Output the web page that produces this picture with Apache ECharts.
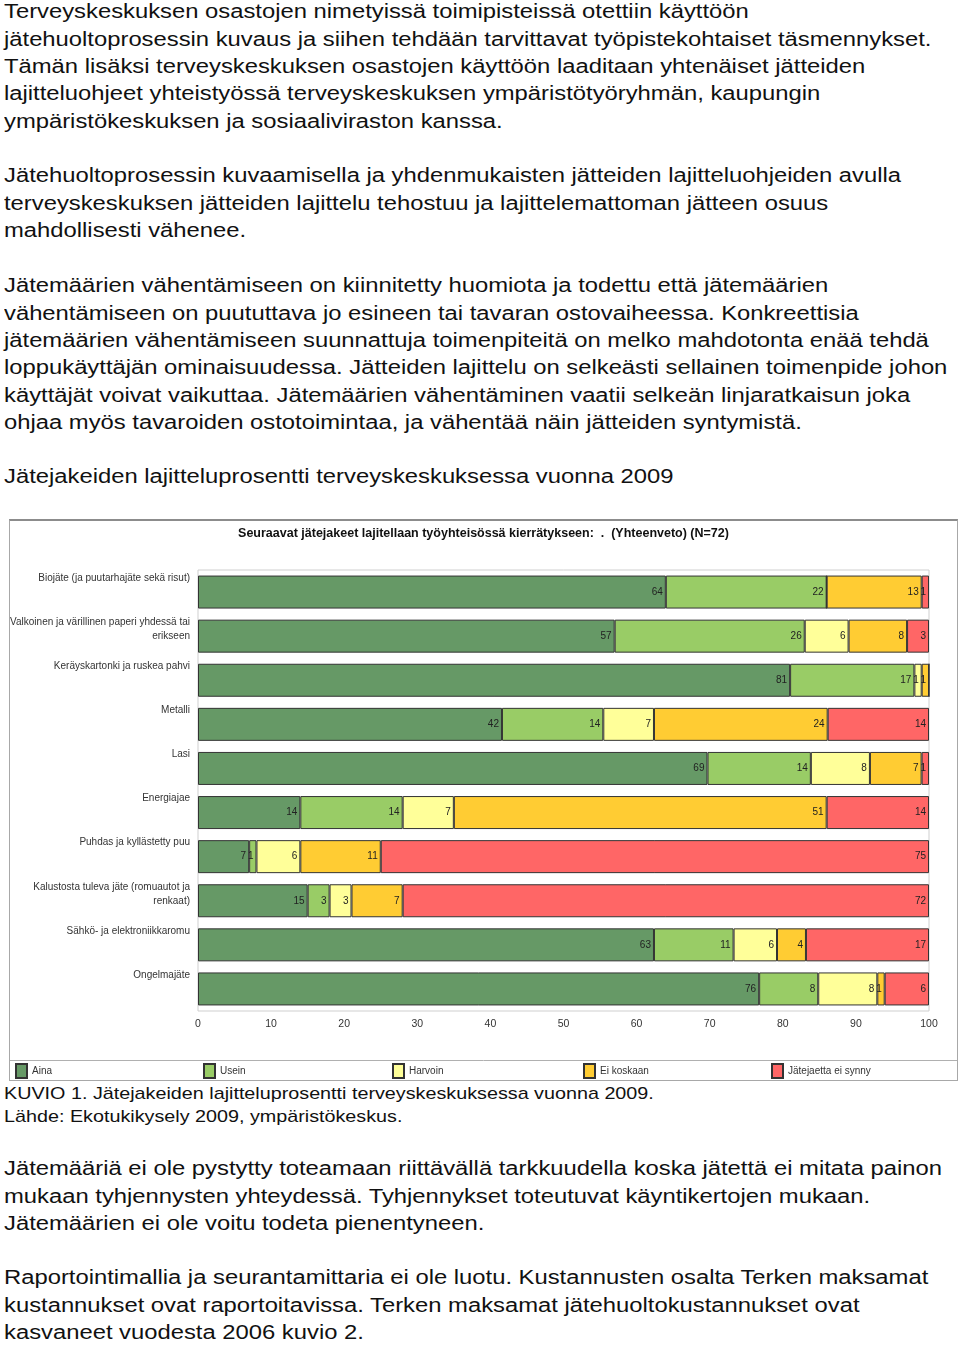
<!DOCTYPE html>
<html>
<head>
<meta charset="utf-8">
<script src="https://cdn.jsdelivr.net/npm/echarts@6/dist/echarts.min.js"></script>
<style>
html,body{margin:0;padding:0;background:#fff;width:960px;height:1345px;overflow:hidden;position:relative;}
.l{position:absolute;left:4px;white-space:nowrap;font-family:'Liberation Sans',Arial,sans-serif;color:#111;transform-origin:0 0;transform:scaleX(1.19);}
.b{font-size:20px;line-height:20px;}
.c{font-size:16.6px;line-height:16.6px;}
#box{position:absolute;left:9px;top:519px;width:947px;height:559px;border:1px solid #a8a8a8;border-top:2px solid #8c8c8c;background:#fff;}
#chart{width:947px;height:559px;}
</style>
</head>
<body>
<div id="text"></div>
<div id="box"><div id="chart"></div></div>
<script>
// ---- page text lines: [text, centerY, class]
const pageLines = [
 ["Terveyskeskuksen osastojen nimetyissä toimipisteissä otettiin käyttöön", 11, "b"],
 ["jätehuoltoprosessin kuvaus ja siihen tehdään tarvittavat työpistekohtaiset täsmennykset.", 38.3, "b"],
 ["Tämän lisäksi terveyskeskuksen osastojen käyttöön laaditaan yhtenäiset jätteiden", 65.6, "b"],
 ["lajitteluohjeet yhteistyössä terveyskeskuksen ympäristötyöryhmän, kaupungin", 92.9, "b"],
 ["ympäristökeskuksen ja sosiaaliviraston kanssa.", 120.2, "b"],
 ["Jätehuoltoprosessin kuvaamisella ja yhdenmukaisten jätteiden lajitteluohjeiden avulla", 175, "b"],
 ["terveyskeskuksen jätteiden lajittelu tehostuu ja lajittelemattoman jätteen osuus", 202.3, "b"],
 ["mahdollisesti vähenee.", 229.6, "b"],
 ["Jätemäärien vähentämiseen on kiinnitetty huomiota ja todettu että jätemäärien", 285, "b"],
 ["vähentämiseen on puututtava jo esineen tai tavaran ostovaiheessa. Konkreettisia", 312.3, "b"],
 ["jätemäärien vähentämiseen suunnattuja toimenpiteitä on melko mahdotonta enää tehdä", 339.6, "b"],
 ["loppukäyttäjän ominaisuudessa. Jätteiden lajittelu on selkeästi sellainen toimenpide johon", 366.9, "b"],
 ["käyttäjät voivat vaikuttaa. Jätemäärien vähentäminen vaatii selkeän linjaratkaisun joka", 394.2, "b"],
 ["ohjaa myös tavaroiden ostotoimintaa, ja vähentää näin jätteiden syntymistä.", 421.5, "b"],
 ["Jätejakeiden lajitteluprosentti terveyskeskuksessa vuonna 2009", 476, "b"],
 ["KUVIO 1. Jätejakeiden lajitteluprosentti terveyskeskuksessa vuonna 2009.", 1093.5, "c"],
 ["Lähde: Ekotukikysely 2009, ympäristökeskus.", 1116.5, "c"],
 ["Jätemääriä ei ole pystytty toteamaan riittävällä tarkkuudella koska jätettä ei mitata painon", 1168, "b"],
 ["mukaan tyhjennysten yhteydessä. Tyhjennykset toteutuvat käyntikertojen mukaan.", 1195.3, "b"],
 ["Jätemäärien ei ole voitu todeta pienentyneen.", 1222.6, "b"],
 ["Raportointimallia ja seurantamittaria ei ole luotu. Kustannusten osalta Terken maksamat", 1277, "b"],
 ["kustannukset ovat raportoitavissa. Terken maksamat jätehuoltokustannukset ovat", 1304.3, "b"],
 ["kasvaneet vuodesta 2006 kuvio 2.", 1331.6, "b"]
];
const tc = document.getElementById('text');
pageLines.forEach(([t, cy, cls]) => {
  const d = document.createElement('div');
  d.className = 'l ' + cls;
  d.textContent = t;
  d.style.top = (cls === 'b' ? cy - 9.6 : cy - 8) + 'px';
  tc.appendChild(d);
});

// ---- chart data
const chartTitle = 'Seuraavat jätejakeet lajitellaan työyhteisössä kierrätykseen:  .  (Yhteenveto) (N=72)';
const categories = [
 'Biojäte (ja puutarhajäte sekä risut)',
 'Valkoinen ja värillinen paperi yhdessä tai\nerikseen',
 'Keräyskartonki ja ruskea pahvi',
 'Metalli',
 'Lasi',
 'Energiajae',
 'Puhdas ja kyllästetty puu',
 'Kalustosta tuleva jäte (romuautot ja\nrenkaat)',
 'Sähkö- ja elektroniikkaromu',
 'Ongelmajäte'
];
const seriesNames = ['Aina', 'Usein', 'Harvoin', 'Ei koskaan', 'Jätejaetta ei synny'];
const aina      = [64, 57, 81, 42, 69, 14,  7, 15, 63, 76];
const usein     = [22, 26, 17, 14, 14, 14,  1,  3, 11,  8];
const harvoin   = [ 0,  6,  1,  7,  8,  7,  6,  3,  6,  8];
const eiKoskaan = [13,  8,  1, 24,  7, 51, 11,  7,  4,  1];
const eiSynny   = [ 1,  3,  0, 14,  1, 14, 75, 72, 17,  6];
const xTicks = [0, 10, 20, 30, 40, 50, 60, 70, 80, 90, 100];

const colors = ['#669966', '#99cc66', '#ffff99', '#ffcc33', '#ff6666'];
const allSeries = [aina, usein, harvoin, eiKoskaan, eiSynny];
const rowSums = categories.map((_, i) => allSeries.reduce((s, a) => s + a[i], 0));

const legendLefts = [5, 193, 382, 573, 761];

const chart = echarts.init(document.getElementById('chart'), null, {renderer: 'canvas'});
chart.setOption({
  animation: false,
  textStyle: {fontFamily: 'Liberation Sans, Arial, sans-serif'},
  title: {
    text: chartTitle, left: 'center', top: 6, padding: 0,
    textStyle: {fontSize: 12.5, fontWeight: 'bold', color: '#111', fontFamily: 'Liberation Sans, Arial, sans-serif'}
  },
  grid: {left: 188, right: 28, top: 49, bottom: 69, containLabel: false, outerBoundsMode: 'none',
    show: true, borderColor: '#cfcfcf', borderWidth: 1, backgroundColor: '#fff'},
  xAxis: {
    type: 'value', min: 0, max: 100, interval: 10,
    axisLine: {show: false}, axisTick: {show: false}, splitLine: {show: false},
    axisLabel: {color: '#333', fontSize: 10.5, margin: 8,
      formatter: v => xTicks.includes(v) ? String(v) : ''}
  },
  yAxis: {
    type: 'category', data: categories, inverse: true,
    axisLine: {show: false}, axisTick: {show: false},
    axisLabel: {color: '#333', fontSize: 10, lineHeight: 14, margin: 8, align: 'right', verticalAlign: 'middle',
      formatter: v => v.indexOf('\n') >= 0 ? v + '\n ' : v + '\n \n '}
  },
  legend: seriesNames.map((n, i) => ({
    data: [n], left: legendLefts[i], top: 542, padding: 0, itemWidth: 11, itemHeight: 14, itemGap: 6,
    icon: 'rect', textStyle: {fontSize: 10, color: '#333'}, selectedMode: false
  })),
  graphic: [{
    type: 'line', shape: {x1: 0, y1: 539.5, x2: 947, y2: 539.5},
    style: {stroke: '#b0b0b0', lineWidth: 1}
  }],
  series: allSeries.map((arr, si) => ({
    name: seriesNames[si], type: 'bar', stack: 'total', barWidth: 33,
    itemStyle: {color: colors[si], borderColor: '#333', borderWidth: 1},
    label: {
      show: true, position: 'insideRight', distance: 3, fontSize: 10, color: '#222',
      formatter: p => arr[p.dataIndex] ? String(arr[p.dataIndex]) : ''
    },
    data: arr.map((v, i) => v / rowSums[i] * 100)
  }))
});
</script>
</body>
</html>
